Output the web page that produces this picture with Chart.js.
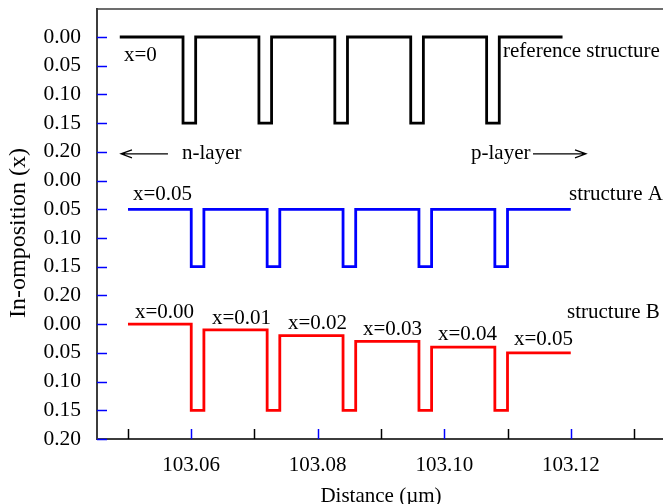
<!DOCTYPE html>
<html>
<head>
<meta charset="utf-8">
<script src="https://cdn.jsdelivr.net/npm/chart.js@4/dist/chart.umd.min.js"></script>
<style>
    html, body { margin: 0; padding: 0; background: #fff; overflow: hidden; }
    #wrap { width: 663px; height: 504px; overflow: hidden; }
</style>
</head>
<body>
<div id="wrap"><canvas id="profileChart" width="670" height="504"></canvas></div>
<script>
// Distance positions (um) where the composition changes, one list per structure
const refEdges = [103.0487, 103.0587, 103.0607, 103.0707, 103.0727, 103.0827, 103.0847, 103.0947, 103.0967, 103.1067, 103.1087, 103.1187];
const refLevels = [0.00, 0.15, 0.00, 0.15, 0.00, 0.15, 0.00, 0.15, 0.00, 0.15, 0.00, 0.00];

const aEdges = [103.050, 103.060, 103.062, 103.072, 103.074, 103.084, 103.086, 103.096, 103.098, 103.108, 103.110, 103.120];
const aLevels = [0.05, 0.15, 0.05, 0.15, 0.05, 0.15, 0.05, 0.15, 0.05, 0.15, 0.05, 0.05];

const bEdges = [103.050, 103.060, 103.062, 103.072, 103.074, 103.084, 103.086, 103.096, 103.098, 103.108, 103.110, 103.120];
const bLevels = [0.00, 0.15, 0.01, 0.15, 0.02, 0.15, 0.03, 0.15, 0.04, 0.15, 0.05, 0.05];

// Axis ticks
const xTickValues = [103.05, 103.06, 103.07, 103.08, 103.09, 103.10, 103.11, 103.12, 103.13];
const xTickLabels = ['', '103.06', '', '103.08', '', '103.10', '', '103.12', ''];
const yTickLabels = ['0.00', '0.05', '0.10', '0.15', '0.20'];

// Text labels in the plot
const structureNames = ['reference structure', 'structure A', 'structure B'];
const bLevelLabels = ['x=0.00', 'x=0.01', 'x=0.02', 'x=0.03', 'x=0.04', 'x=0.05'];

const SERIF = "'Liberation Serif', 'Times New Roman', serif";
const X_STEP = 0.05;        // composition per tick
const PANEL_ROWS = 5;       // ticks per panel (0.00 .. 0.20)

// turn composition into a position on the stacked y axis
function toRows(edges, levels, panel) {
    return edges.map((x, i) => ({ x: x, y: panel * PANEL_ROWS + levels[i] / X_STEP }));
}

function yTickText(value) {
    const row = Math.round(value);
    return yTickLabels[row % PANEL_ROWS];
}

// Draws the inward tick marks, top frame line, arrows and labels
const overlayPlugin = {
    id: 'overlay',
    afterDatasetsDraw(chart) {
        const ctx = chart.ctx;
        const xs = chart.scales.x;
        const ys = chart.scales.y;
        const area = chart.chartArea;
        ctx.save();

        // top frame line
        ctx.strokeStyle = '#3c3c3c';
        ctx.lineWidth = 1.5;
        ctx.beginPath();
        ctx.moveTo(area.left, area.top);
        ctx.lineTo(area.right, area.top);
        ctx.stroke();

        // y tick marks (inward, blue)
        ctx.lineWidth = 1.5;
        ctx.strokeStyle = '#0000ff';
        ys.ticks.forEach((t) => {
            const py = Math.round(ys.getPixelForValue(t.value)) + 0.5;
            ctx.beginPath();
            ctx.moveTo(area.left, py);
            ctx.lineTo(area.left + 10, py);
            ctx.stroke();
        });

        // x tick marks (inward, blue when labelled)
        xs.ticks.forEach((t, i) => {
            const px = Math.round(xs.getPixelForValue(t.value)) + 0.5;
            ctx.strokeStyle = xTickLabels[i] ? '#0000ff' : '#000000';
            ctx.beginPath();
            ctx.moveTo(px, area.bottom);
            ctx.lineTo(px, area.bottom - 10);
            ctx.stroke();
        });

        // y axis title
        ctx.fillStyle = '#000';
        ctx.save();
        ctx.translate(19, 233);
        ctx.rotate(-Math.PI / 2);
        ctx.font = '24px ' + SERIF;
        ctx.textAlign = 'center';
        ctx.textBaseline = 'middle';
        ctx.fillText('In-omposition (x)', 0, 0);
        ctx.restore();

        // labels
        ctx.font = '21px ' + SERIF;
        ctx.textAlign = 'left';
        ctx.textBaseline = 'middle';
        const put = (text, x, y) => ctx.fillText(text, xs.getPixelForValue(x), ys.getPixelForValue(y));

        put('x=0', 103.04937, 0.63);
        put(structureNames[0], 103.10929, 0.52);
        put('x=0.05', 103.05079, 5.47);
        put(structureNames[1], 103.11972, 5.47);
        put(structureNames[2], 103.11941, 9.61);

        const bLabelX = [103.05111, 103.06328, 103.07530, 103.08715, 103.09901, 103.11103];
        const bLabelY = [9.58, 9.79, 9.96, 10.17, 10.35, 10.55];
        bLevelLabels.forEach((txt, i) => put(txt, bLabelX[i], bLabelY[i]));

        put('n-layer', 103.05854, 4.07);
        put('p-layer', 103.10423, 4.07);

        // arrows
        ctx.strokeStyle = '#000';
        ctx.lineWidth = 1.2;
        const arrow = (fromX, toX, y) => {
            const x1 = xs.getPixelForValue(fromX);
            const x2 = xs.getPixelForValue(toX);
            const py = ys.getPixelForValue(y);
            const dir = x2 > x1 ? 1 : -1;
            ctx.beginPath();
            ctx.moveTo(x1, py);
            ctx.lineTo(x2, py);
            ctx.moveTo(x2 - dir * 11, py - 4);
            ctx.lineTo(x2, py);
            ctx.lineTo(x2 - dir * 11, py + 4);
            ctx.stroke();
        };
        arrow(103.05632, 103.04889, 4.07);
        arrow(103.11403, 103.12241, 4.07);

        ctx.restore();
    }
};

const lineStyle = {
    borderWidth: 2.8,
    pointRadius: 0,
    stepped: 'before',
    fill: false,
    borderJoinStyle: 'miter',
    tension: 0
};

const data = {
    datasets: [
        Object.assign({ label: 'reference structure', data: toRows(refEdges, refLevels, 0), borderColor: '#000000' }, lineStyle),
        Object.assign({ label: 'structure A', data: toRows(aEdges, aLevels, 1), borderColor: '#0000ff' }, lineStyle),
        Object.assign({ label: 'structure B', data: toRows(bEdges, bLevels, 2), borderColor: '#ff0000' }, lineStyle)
    ]
};

const config = {
    type: 'line',
    data: data,
    plugins: [overlayPlugin],
    options: {
        responsive: false,
        animation: false,
        layout: { padding: { top: 9, right: 5, left: 0, bottom: 0 } },
        plugins: { legend: { display: false }, tooltip: { enabled: false } },
        scales: {
            x: {
                type: 'linear',
                min: 103.0451,
                max: 103.1349,
                afterBuildTicks: (scale) => { scale.ticks = xTickValues.map((v) => ({ value: v })); },
                afterFit: (scale) => {
                    scale.height = 65;
                    scale.paddingLeft = 0;
                    scale.paddingRight = 0;
                },
                ticks: {
                    autoSkip: false,
                    maxRotation: 0,
                    padding: 14,
                    color: '#000',
                    font: { family: SERIF, size: 21 },
                    callback: (value, index) => xTickLabels[index]
                },
                grid: { display: false, drawTicks: false },
                border: { display: true, color: '#3c3c3c', width: 2 },
                title: {
                    display: true,
                    text: 'Distance (\u00b5m)',
                    color: '#000',
                    font: { family: SERIF, size: 21, lineHeight: 0.7 },
                    padding: { top: 0, bottom: 0 }
                }
            },
            y: {
                type: 'linear',
                reverse: true,
                min: -0.975,
                max: 14,
                afterBuildTicks: (scale) => {
                    const ticks = [];
                    for (let i = 0; i < 3 * PANEL_ROWS; i++) ticks.push({ value: i });
                    scale.ticks = ticks;
                },
                afterFit: (scale) => {
                    scale.width = 97;
                    scale.paddingTop = 0;
                    scale.paddingBottom = 0;
                },
                ticks: {
                    autoSkip: false,
                    padding: 16,
                    color: '#000',
                    font: { family: SERIF, size: 21.5 },
                    callback: (value) => yTickText(value)
                },
                grid: { display: false, drawTicks: false },
                border: { display: true, color: '#3c3c3c', width: 2 }
            }
        }
    }
};

const ctx = document.getElementById('profileChart').getContext('2d');
window.profileChart = new Chart(ctx, config);
</script>
</body>
</html>
